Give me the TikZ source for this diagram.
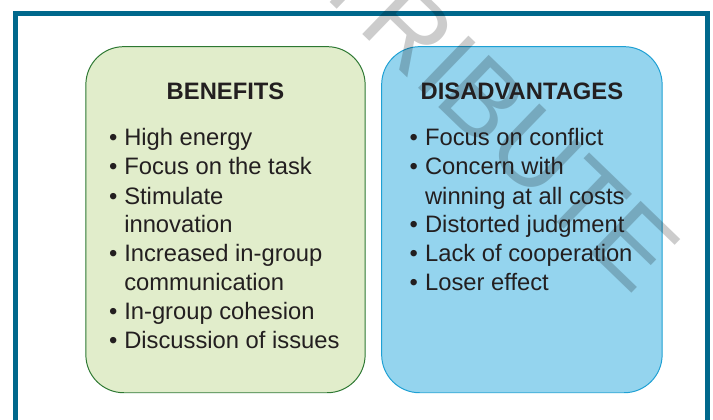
\documentclass[tikz,border=0pt]{standalone}
\usepackage{fontspec}
\setmainfont{Liberation Sans}
\usetikzlibrary{positioning}
\definecolor{framecol}{RGB}{0,104,140}
\definecolor{benfill}{RGB}{225,237,203}
\definecolor{bendraw}{RGB}{45,120,50}
\definecolor{disfill}{RGB}{148,212,238}
\definecolor{disdraw}{RGB}{30,160,212}
\definecolor{ink}{RGB}{35,31,32}
\tikzset{
  panel/.style={rectangle, rounded corners=27pt, line width=0.7pt,
    minimum height=8.65cm, inner sep=0pt},
  paneltitle/.style={anchor=base, inner sep=0pt, text=ink,
    font=\bfseries\fontsize{16.9}{20.6}\selectfont},
  listtext/.style={anchor=base west, inner sep=0pt, text=ink,
    font=\fontsize{16.9}{20.6}\selectfont},
  watermark/.style={anchor=base east, inner sep=0pt, rotate=-44,
    text=black, text opacity=0.2, font=\fontsize{75}{75}\selectfont}
}
\begin{document}
\begin{tikzpicture}[x=0.025cm, y=-0.025cm]
% 1. 画布与外框
\useasboundingbox (0,0) rectangle (713,420);
\clip (0,0) rectangle (713,420);
\fill[white] (0,0) rectangle (713,420);
\draw[framecol, line width=3.56pt] (15.5,13.5) rectangle (707.5,460);

% 2. 两个圆角框
\node[panel, fill=benfill, draw=bendraw, minimum width=6.98cm] (benefits) at (225.5,219.7) {};
\node[panel, fill=disfill, draw=disdraw, minimum width=7.01cm] (disadv) at (521.9,219.7) {};

% 3. 水印
\node[watermark] (wm) at (635,297) {DISTRIBUTE};

% 4. 标题
\node[paneltitle] (bentitle) at (225.5,99.3) {BENEFITS};
\node[paneltitle] (distitle) at (521.9,99.3) {DISADVANTAGES};

% 5. 列表
\foreach \i/\txt in
    {1/High energy, 2/Focus on the task, 3/Stimulate, 4/innovation,
     5/Increased in-group, 6/communication, 7/In-group cohesion,
     8/Discussion of issues}
    {\node[listtext] (ben\i) at (124, {146+29*(\i-1)}) {\txt};}
\foreach \i in {1,2,3,5,7,8}
    {\node[listtext] (benb\i) at (108.8, {146+29*(\i-1)}) {\textbullet};}
\foreach \i/\txt in
    {1/Focus on conflict, 2/Concern with, 3/winning at all costs,
     4/Distorted judgment, 5/Lack of cooperation, 6/Loser effect}
    {\node[listtext] (dis\i) at (424.8, {146+29*(\i-1)}) {\txt};}
\foreach \i in {1,2,4,5,6}
    {\node[listtext] (disb\i) at (409.3, {146+29*(\i-1)}) {\textbullet};}
\end{tikzpicture}
\end{document}
